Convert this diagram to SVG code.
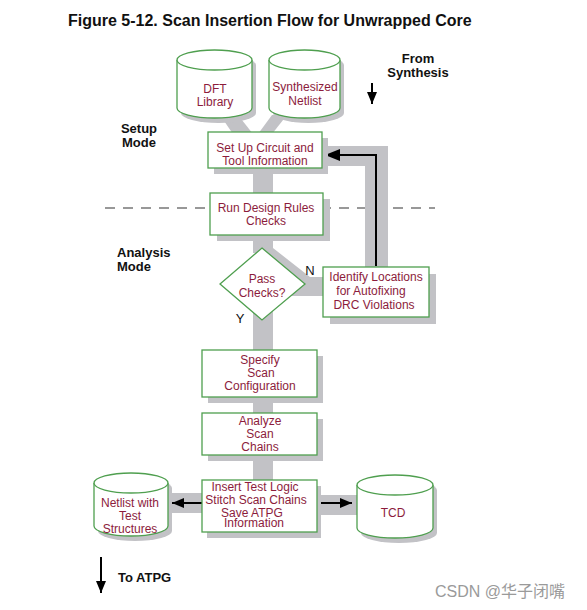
<svg xmlns="http://www.w3.org/2000/svg" width="587" height="610" viewBox="0 0 587 610">
<style>
.band{fill:#c2c2c6}
.shadow{fill:#c2c2c6}
.box{fill:#ffffff;stroke:#4f9f4f;stroke-width:1.3}
.t{font-family:"Liberation Sans",Arial,sans-serif;font-size:12px;fill:#8c1c3c;text-anchor:middle}
.lbl{font-family:"Liberation Sans",Arial,sans-serif;font-size:13px;font-weight:bold;fill:#111}
.yn{font-family:"Liberation Sans",Arial,sans-serif;font-size:13px;fill:#111}
.arrow{fill:none;stroke:#000;stroke-width:2}
</style>
<defs>
<marker id="ah" viewBox="0 0 12 10" refX="12" refY="5" markerWidth="12" markerHeight="10" markerUnits="userSpaceOnUse" orient="auto">
<path d="M0,0 L12,5 L0,10 z" fill="#000"/>
</marker>
<marker id="ahb" viewBox="0 0 15 12" refX="15" refY="6" markerWidth="15" markerHeight="12" markerUnits="userSpaceOnUse" orient="auto">
<path d="M0,0 L15,6 L0,12 z" fill="#000"/>
</marker>
</defs>
<rect width="587" height="610" fill="#ffffff"/>
<text x="68" y="26" font-family="'Liberation Sans',Arial,sans-serif" font-size="16" font-weight="bold" fill="#111">Figure 5-12. Scan Insertion Flow for Unwrapped Core</text>

<g id="labels">
<text class="lbl" x="418" y="63" text-anchor="middle">From</text>
<text class="lbl" x="418" y="77" text-anchor="middle">Synthesis</text>
<text class="lbl" x="139" y="133" text-anchor="middle">Setup</text>
<text class="lbl" x="139" y="147" text-anchor="middle">Mode</text>
<text class="lbl" x="117" y="257">Analysis</text>
<text class="lbl" x="117" y="271">Mode</text>
<text class="lbl" x="118" y="582">To ATPG</text>
<line x1="105" y1="208" x2="435" y2="208" stroke="#777" stroke-width="1.5" stroke-dasharray="10 8"/>
</g>

<g id="connectors">
<polygon class="band" points="220,115 238,115 253,134 233,134"/>
<polygon class="band" points="272,115 287,115 272,134 258,134"/>
<rect class="band" x="253" y="165" width="20" height="30"/>
<rect class="band" x="253" y="233" width="20" height="20"/>
<polygon class="band" points="253,236 273,236 273,248 310,277 323,277 323,296 290,296"/>
<rect class="band" x="253" y="300" width="20" height="52"/>
<rect class="band" x="253" y="395" width="20" height="20"/>
<rect class="band" x="253" y="453" width="20" height="30"/>
<rect class="band" x="318" y="146" width="70" height="20"/>
<rect class="band" x="365" y="146" width="23" height="124"/>
<rect class="band" x="160" y="493" width="45" height="20"/>
<rect class="band" x="315" y="495" width="45" height="20"/>
<path class="arrow" d="M376,266 V155 H325" marker-end="url(#ahb)"/>
<path class="arrow" d="M202,503 H172" marker-end="url(#ah)"/>
<path class="arrow" d="M320,503 H352" marker-end="url(#ah)"/>
<path class="arrow" d="M372,83 V104" marker-end="url(#ah)"/>
<path class="arrow" d="M101,557 V593" marker-end="url(#ah)"/>
</g>

<g id="dft-library">
<path class="shadow" d="M181,65 A37.5,10 0 0 1 256,65 V113 A37.5,10 0 0 1 181,113 Z"/>
<path class="box" d="M177,60 A37.5,10 0 0 1 252,60 V108 A37.5,10 0 0 1 177,108 Z"/>
<path class="box" fill="none" d="M177,60 A37.5,10 0 0 0 252,60"/>
<text class="t" x="215" y="93">DFT</text>
<text class="t" x="215" y="106">Library</text>
</g>

<g id="synthesized-netlist">
<path class="shadow" d="M273,65 A35.5,10 0 0 1 344,65 V113 A35.5,10 0 0 1 273,113 Z"/>
<path class="box" d="M269,60 A35.5,10 0 0 1 340,60 V108 A35.5,10 0 0 1 269,108 Z"/>
<path class="box" fill="none" d="M269,60 A35.5,10 0 0 0 340,60"/>
<text class="t" x="305" y="91">Synthesized</text>
<text class="t" x="305" y="105">Netlist</text>
</g>

<g id="setup">
<rect class="shadow" x="214" y="138" width="114" height="36"/>
<rect class="box" x="208" y="132" width="114" height="36"/>
<text class="t" x="265" y="152">Set Up Circuit and</text>
<text class="t" x="265" y="165">Tool Information</text>
</g>

<g id="run-drc">
<rect class="shadow" x="217" y="199" width="113" height="42"/>
<rect class="box" x="210" y="193" width="113" height="42"/>
<text class="t" x="266" y="212">Run Design Rules</text>
<text class="t" x="266" y="225">Checks</text>
</g>

<g id="pass-checks">
<polygon class="box" points="262,248 305,284 262,320 220,284"/>
<text class="t" x="262" y="283">Pass</text>
<text class="t" x="262" y="297">Checks?</text>
<text class="yn" x="310" y="275" text-anchor="middle">N</text>
<text class="yn" x="240" y="323" text-anchor="middle">Y</text>
</g>

<g id="identify">
<rect class="shadow" x="330" y="274" width="106" height="50"/>
<rect class="box" x="323" y="267" width="106" height="50"/>
<text class="t" x="376" y="281">Identify Locations</text>
<text class="t" x="371" y="295">for Autofixing</text>
<text class="t" x="374" y="309">DRC Violations</text>
</g>

<g id="specify">
<rect class="shadow" x="208" y="356" width="115" height="47"/>
<rect class="box" x="202" y="350" width="115" height="47"/>
<text class="t" x="260" y="364">Specify</text>
<text class="t" x="261" y="377">Scan</text>
<text class="t" x="260" y="390">Configuration</text>
</g>

<g id="analyze">
<rect class="shadow" x="208" y="419" width="115" height="42"/>
<rect class="box" x="202" y="413" width="115" height="42"/>
<text class="t" x="260" y="425">Analyze</text>
<text class="t" x="260" y="438">Scan</text>
<text class="t" x="260" y="451">Chains</text>
</g>

<g id="insert">
<rect class="shadow" x="207" y="486" width="114" height="52"/>
<rect class="box" x="202" y="480" width="115" height="52"/>
<text class="t" x="255" y="491">Insert Test Logic</text>
<text class="t" x="256" y="504">Stitch Scan Chains</text>
<text class="t" x="252" y="517">Save ATPG</text>
<text class="t" x="254" y="527">Information</text>
</g>

<g id="netlist-with-test">
<path class="shadow" d="M98,488 A37,10 0 0 1 172,488 V531 A37,10 0 0 1 98,531 Z"/>
<path class="box" d="M94,483 A37,10 0 0 1 168,483 V526 A37,10 0 0 1 94,526 Z"/>
<path class="box" fill="none" d="M94,483 A37,10 0 0 0 168,483"/>
<text class="t" x="130" y="507">Netlist with</text>
<text class="t" x="130" y="520">Test</text>
<text class="t" x="130" y="533">Structures</text>
</g>

<g id="tcd">
<path class="shadow" d="M361,490 A38,10 0 0 1 437,490 V533 A38,10 0 0 1 361,533 Z"/>
<path class="box" d="M357,485 A38,10 0 0 1 433,485 V528 A38,10 0 0 1 357,528 Z"/>
<path class="box" fill="none" d="M357,485 A38,10 0 0 0 433,485"/>
<text class="t" x="393" y="517">TCD</text>
</g>

<text x="435" y="597" font-family="'Liberation Sans','Noto Sans CJK SC',sans-serif" font-size="16" fill="#9a9a9a">CSDN @华子闭嘴</text>
</svg>
